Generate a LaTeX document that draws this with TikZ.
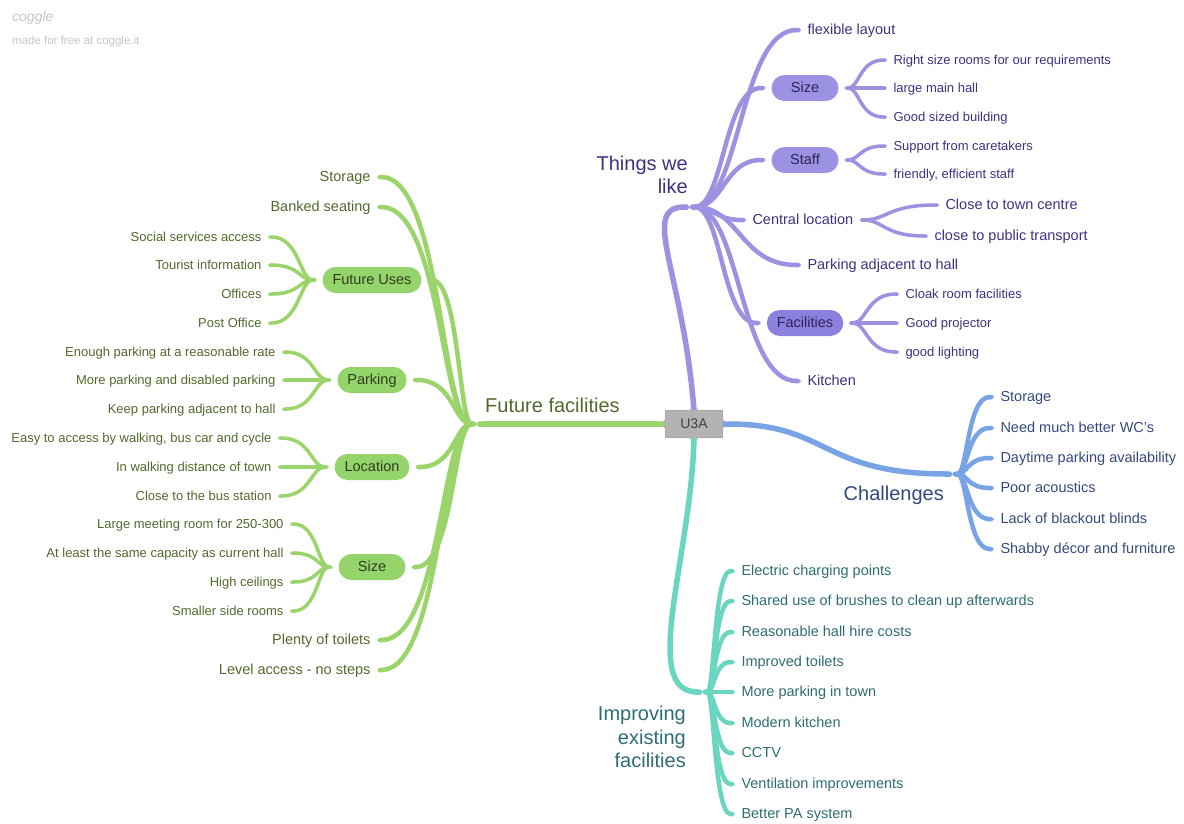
\documentclass[tikz,border=0pt]{standalone}
\usepackage{fontspec}
\setmainfont{Liberation Sans}
\usetikzlibrary{calc,arrows.meta}

\definecolor{ffline}{HTML}{9AD46B}
\definecolor{ffpill}{HTML}{95D46B}
\definecolor{fftext}{HTML}{536A2C}
\definecolor{ffdark}{HTML}{2F3D1C}
\definecolor{twline}{HTML}{9C92E2}
\definecolor{twfac}{HTML}{8C80DE}
\definecolor{twtext}{HTML}{3D3282}
\definecolor{twdark}{HTML}{2E2558}
\definecolor{chline}{HTML}{78A4E6}
\definecolor{chtext}{HTML}{34497E}
\definecolor{ieline}{HTML}{6AD6C0}
\definecolor{ietext}{HTML}{2E6E72}
\definecolor{hubgray}{HTML}{B3B3B3}

\begin{document}
\begin{tikzpicture}[x=1pt,y=-1pt,
    twig/.style={to path={.. controls ($(\tikztostart)!#1!(\tikztotarget|-\tikztostart)$) and ($(\tikztostart|-\tikztotarget)!#1!(\tikztotarget)$) .. (\tikztotarget)}},
    twig/.default=0.35,
    leaf/.style={inner sep=2pt,outer sep=4.5pt,text height=0.98em,text depth=0pt,font=\fontsize{14.5}{17}\selectfont},
    small/.style={inner sep=2pt,outer sep=4.5pt,text height=0.98em,text depth=0pt,font=\fontsize{13}{15}\selectfont},
    pill/.style={rounded corners=13pt,minimum height=26pt,minimum width=67pt,inner xsep=10pt,inner ysep=0pt,outer sep=6pt,text height=0.98em,text depth=0pt,font=\fontsize{14.5}{17}\selectfont},
    title/.style={inner sep=0pt,font=\fontsize{20}{23.5}\selectfont},
    limb/.style={line width=5.5pt,{Round Cap}-{Triangle Cap}},
    bough/.style={line width=4.5pt,{Round Cap}-{Triangle Cap}},
    sprig/.style={line width=3.5pt,{Round Cap}-{Triangle Cap}}]
  \useasboundingbox (0,0) rectangle (1184,823);
  \fill[white] (0,0) rectangle (1184,823);
  %\draw[very thin,lightgray,step=50] (0,0) grid (1184,823);

  \node[anchor=west,inner sep=0pt,gray!45,font=\fontsize{14}{16}\selectfont\itshape] (logo) at (12,18) {coggle};
  \node[anchor=west,inner sep=0pt,gray!45,font=\fontsize{11.5}{14}\selectfont] (madeby) at (12,42) {made for free at coggle.it};

  \node[fill=hubgray,draw=gray!70,minimum width=57pt,minimum height=27pt,inner sep=0pt,text height=0.98em,text depth=0pt,text=black!75,font=\fontsize{14}{16}\selectfont] (u3a) at (694,424) {U3A};
  \foreach \a in {north,south,east,west}
    \fill[hubgray] (u3a.\a) +(-5,0) -- +(0,-5) -- +(5,0) -- +(0,5) -- cycle;

  % future facilities
  \coordinate (ffh) at (476,424);
  \node[title,fftext,anchor=west] (fftitle) at (485,405) {Future facilities};
  \draw[limb,ffline] (u3a.west) -- (ffh);
  \node[leaf,fftext,anchor=east] (gstore) at (377,177) {Storage};
  \node[leaf,fftext,anchor=east] (gbank) at (377,207) {Banked seating};
  \node[pill,fill=ffpill,text=ffdark] (gfu) at (372,280) {Future Uses};
  \node[pill,fill=ffpill,text=ffdark] (gpark) at (372,380) {Parking};
  \node[pill,fill=ffpill,text=ffdark] (gloc) at (372,467) {Location};
  \node[pill,fill=ffpill,text=ffdark] (gsize) at (372,567) {Size};
  \node[leaf,fftext,anchor=east] (gtoil) at (377,640) {Plenty of toilets};
  \node[leaf,fftext,anchor=east] (glevel) at (377,670) {Level access - no steps};
  \foreach \n in {gstore,gbank,gfu,gpark,gloc,gsize,gtoil,glevel}
    \draw[bough,ffline] (ffh) to[twig] (\n.east);

  \foreach \t/\y [count=\i] in {Social services access/237,Tourist information/265,Offices/294,Post Office/323}{
    \node[small,fftext,anchor=east] (gfu\i) at (268,\y) {\t};
    \draw[sprig,ffline] (gfu.west) to[twig] (gfu\i.east);
  }
  \foreach \t/\y [count=\i] in {Enough parking at a reasonable rate/352,More parking and disabled parking/380,Keep parking adjacent to hall/409}{
    \node[small,fftext,anchor=east] (gpark\i) at (282,\y) {\t};
    \draw[sprig,ffline] (gpark.west) to[twig] (gpark\i.east);
  }
  \foreach \t/\y [count=\i] in {{Easy to access by walking, bus car and cycle}/438,In walking distance of town/467,Close to the bus station/496}{
    \node[small,fftext,anchor=east] (gloc\i) at (278,\y) {\t};
    \draw[sprig,ffline] (gloc.west) to[twig] (gloc\i.east);
  }
  \foreach \t/\y [count=\i] in {Large meeting room for 250-300/524,At least the same capacity as current hall/553,High ceilings/582,Smaller side rooms/611}{
    \node[small,fftext,anchor=east] (gsize\i) at (290,\y) {\t};
    \draw[sprig,ffline] (gsize.west) to[twig] (gsize\i.east);
  }

  % things we like
  \coordinate (twh) at (690,207);
  \node[title,twtext,align=right,anchor=east] (twtitle) at (688,175) {Things we\\like};
  \draw[limb,twline] (u3a.north) .. controls (682,270) and (640,207) .. (twh);
  \node[leaf,twtext,anchor=west] (tflex) at (801,30) {flexible layout};
  \node[pill,fill=twline,text=twdark] (tsize) at (805,88) {Size};
  \node[pill,fill=twline,text=twdark] (tstaff) at (805,160) {Staff};
  \node[leaf,twtext,anchor=west] (tcent) at (746,220) {Central location};
  \node[leaf,twtext,anchor=west] (tpark) at (801,265) {Parking adjacent to hall};
  \node[pill,fill=twfac,text=twdark] (tfac) at (805,323) {Facilities};
  \node[leaf,twtext,anchor=west] (tkit) at (801,381) {Kitchen};
  \foreach \n in {tflex,tsize,tstaff,tcent,tpark,tfac,tkit}
    \draw[bough,twline] (twh) to[twig=0.45] (\n.west);

  \foreach \t/\y [count=\i] in {Right size rooms for our requirements/60,large main hall/88,Good sized building/117}{
    \node[small,twtext,anchor=west] (tsize\i) at (887,\y) {\t};
    \draw[sprig,twline] (tsize.east) to[twig] (tsize\i.west);
  }
  \foreach \t/\y [count=\i] in {Support from caretakers/146,{friendly, efficient staff}/174}{
    \node[small,twtext,anchor=west] (tstaff\i) at (887,\y) {\t};
    \draw[sprig,twline] (tstaff.east) to[twig] (tstaff\i.west);
  }
  \node[leaf,twtext,anchor=west] (tcent1) at (939,205) {Close to town centre};
  \node[leaf,twtext,anchor=west] (tcent2) at (928,236) {close to public transport};
  \foreach \n in {tcent1,tcent2}
    \draw[sprig,twline] (tcent.east) to[twig] (\n.west);
  \foreach \t/\y [count=\i] in {Cloak room facilities/294,Good projector/323,good lighting/352}{
    \node[small,twtext,anchor=west] (tfac\i) at (899,\y) {\t};
    \draw[sprig,twline] (tfac.east) to[twig] (tfac\i.west);
  }

  % challenges
  \coordinate (chh) at (953,474);
  \node[title,chtext,anchor=east] (chtitle) at (944,495) {Challenges};
  \draw[limb,chline] (u3a.east) .. controls (830,424) and (820,474) .. (chh);
  \foreach \t/\y [count=\i] in {Storage/397,Need much better WC's/428,Daytime parking availability/458,Poor acoustics/488,Lack of blackout blinds/519,Shabby décor and furniture/549}{
    \node[leaf,chtext,anchor=west] (ch\i) at (994,\y) {\t};
    \draw[bough,chline] (chh) to[twig] (ch\i.west);
  }

  % improving existing facilities
  \coordinate (ieh) at (703,692);
  \node[title,ietext,align=right,anchor=east] (ietitle) at (686,737) {Improving\\existing\\facilities};
  \draw[limb,ieline] (u3a.south) .. controls (690,560) and (640,692) .. (ieh);
  \foreach \t/\y [count=\i] in {Electric charging points/571,Shared use of brushes to clean up afterwards/601,Reasonable hall hire costs/632,Improved toilets/662,More parking in town/692,Modern kitchen/723,CCTV/753,Ventilation improvements/784,Better PA system/814}{
    \node[leaf,ietext,anchor=west] (ie\i) at (735,\y) {\t};
    \draw[bough,ieline] (ieh) to[twig] (ie\i.west);
  }
\end{tikzpicture}
\end{document}
